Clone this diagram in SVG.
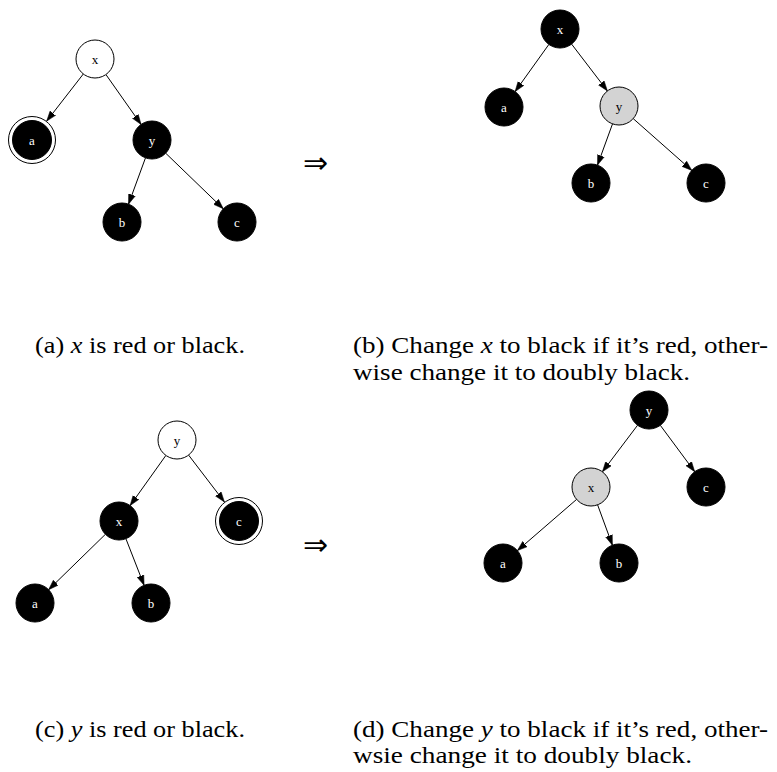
<svg xmlns="http://www.w3.org/2000/svg" width="777" height="772" viewBox="0 0 777 772">
<style>
.nw{fill:#ffffff;stroke:#000;stroke-width:1}
.nb{fill:#000;stroke:#000;stroke-width:1}
.ng{fill:#d3d3d3;stroke:#000;stroke-width:1}
.ring{fill:none;stroke:#000;stroke-width:1}
.lb{font-family:"Liberation Serif","Times New Roman",serif;font-size:13px;text-anchor:middle;fill:#000}
.lw{font-family:"Liberation Serif","Times New Roman",serif;font-size:13px;text-anchor:middle;fill:#fff}
.e{stroke:#000;stroke-width:1;fill:none;marker-end:url(#ah)}
.cap{font-family:"Liberation Serif","Times New Roman",serif;font-size:22.5px;fill:#000}
.arr{font-family:"DejaVu Sans",sans-serif;font-size:30px;text-anchor:middle;fill:#000}
</style>
<defs>
<marker id="ah" markerUnits="userSpaceOnUse" markerWidth="10" markerHeight="8" refX="10" refY="3.5" orient="auto" viewBox="0 0 10 7">
<path d="M0,0 L10,3.5 L0,7 z" fill="#000" stroke="#000" stroke-width="0.5"/>
</marker>
</defs>

<g id="connectors">
<line class="e" x1="83.3" y1="74" x2="46.7" y2="121.1"/>
<line class="e" x1="105.9" y1="74.5" x2="141.1" y2="124.5"/>
<line class="e" x1="145.5" y1="157.8" x2="128.5" y2="204.2"/>
<line class="e" x1="165.7" y1="153.2" x2="223.3" y2="208.8"/>
<line class="e" x1="548.9" y1="44.4" x2="515.1" y2="91.6"/>
<line class="e" x1="571.6" y1="44.1" x2="607.4" y2="90.9"/>
<line class="e" x1="612.5" y1="123.9" x2="597.5" y2="165.1"/>
<line class="e" x1="633.2" y1="118.6" x2="691.8" y2="170.4"/>
<line class="e" x1="165.9" y1="455.4" x2="130.1" y2="505.6"/>
<line class="e" x1="188.6" y1="455.1" x2="224.4" y2="501.9"/>
<line class="e" x1="105.4" y1="534.3" x2="48.6" y2="589.7"/>
<line class="e" x1="125.9" y1="538.7" x2="144.1" y2="585.3"/>
<line class="e" x1="637.6" y1="425.2" x2="602.4" y2="471.8"/>
<line class="e" x1="660.3" y1="425.3" x2="694.7" y2="471.7"/>
<line class="e" x1="576.6" y1="499.4" x2="517.4" y2="550.6"/>
<line class="e" x1="597.6" y1="504.8" x2="612.4" y2="545.2"/>
</g>

<g id="a-x"><circle class="nw" cx="95" cy="59" r="19"/><text class="lb" x="95" y="63.5">x</text></g>
<g id="a-a"><circle class="ring" cx="32" cy="140" r="23.5"/><circle class="nb" cx="32" cy="140" r="19.5"/><text class="lw" x="32" y="144.5">a</text></g>
<g id="a-y"><circle class="nb" cx="152" cy="140" r="19"/><text class="lw" x="152" y="144.5">y</text></g>
<g id="a-b"><circle class="nb" cx="122" cy="222" r="19"/><text class="lw" x="122" y="226.5">b</text></g>
<g id="a-c"><circle class="nb" cx="237" cy="222" r="19"/><text class="lw" x="237" y="226.5">c</text></g>

<g id="b-x"><circle class="nb" cx="560" cy="29" r="19"/><text class="lw" x="560" y="33.5">x</text></g>
<g id="b-a"><circle class="nb" cx="504" cy="107" r="19"/><text class="lw" x="504" y="111.5">a</text></g>
<g id="b-y"><circle class="ng" cx="619" cy="106" r="19"/><text class="lb" x="619" y="110.5">y</text></g>
<g id="b-b"><circle class="nb" cx="591" cy="183" r="19"/><text class="lw" x="591" y="187.5">b</text></g>
<g id="b-c"><circle class="nb" cx="706" cy="183" r="19"/><text class="lw" x="706" y="187.5">c</text></g>

<g id="c-y"><circle class="nw" cx="177" cy="440" r="19"/><text class="lb" x="177" y="444.5">y</text></g>
<g id="c-x"><circle class="nb" cx="119" cy="521" r="19"/><text class="lw" x="119" y="525.5">x</text></g>
<g id="c-c"><circle class="ring" cx="239" cy="521" r="23.5"/><circle class="nb" cx="239" cy="521" r="19.5"/><text class="lw" x="239" y="525.5">c</text></g>
<g id="c-a"><circle class="nb" cx="35" cy="603" r="19"/><text class="lw" x="35" y="607.5">a</text></g>
<g id="c-b"><circle class="nb" cx="151" cy="603" r="19"/><text class="lw" x="151" y="607.5">b</text></g>

<g id="d-y"><circle class="nb" cx="649" cy="410" r="19"/><text class="lw" x="649" y="414.5">y</text></g>
<g id="d-x"><circle class="ng" cx="591" cy="487" r="19"/><text class="lb" x="591" y="491.5">x</text></g>
<g id="d-c"><circle class="nb" cx="706" cy="487" r="19"/><text class="lw" x="706" y="491.5">c</text></g>
<g id="d-a"><circle class="nb" cx="503" cy="563" r="19"/><text class="lw" x="503" y="567.5">a</text></g>
<g id="d-b"><circle class="nb" cx="619" cy="563" r="19"/><text class="lw" x="619" y="567.5">b</text></g>

<text class="arr" x="315.5" y="173">⇒</text>
<text class="arr" x="315.5" y="555">⇒</text>

<text class="cap" x="35" y="353" textLength="210" lengthAdjust="spacingAndGlyphs">(a) <tspan font-style="italic">x</tspan> is red or black.</text>
<text class="cap" x="353" y="353" textLength="415" lengthAdjust="spacingAndGlyphs">(b) Change <tspan font-style="italic">x</tspan> to black if it’s red, other-</text>
<text class="cap" x="353" y="380" textLength="337" lengthAdjust="spacingAndGlyphs">wise change it to doubly black.</text>
<text class="cap" x="35" y="737" textLength="210" lengthAdjust="spacingAndGlyphs">(c) <tspan font-style="italic">y</tspan> is red or black.</text>
<text class="cap" x="353" y="737" textLength="415" lengthAdjust="spacingAndGlyphs">(d) Change <tspan font-style="italic">y</tspan> to black if it’s red, other-</text>
<text class="cap" x="353" y="763" textLength="339" lengthAdjust="spacingAndGlyphs">wsie change it to doubly black.</text>
</svg>
